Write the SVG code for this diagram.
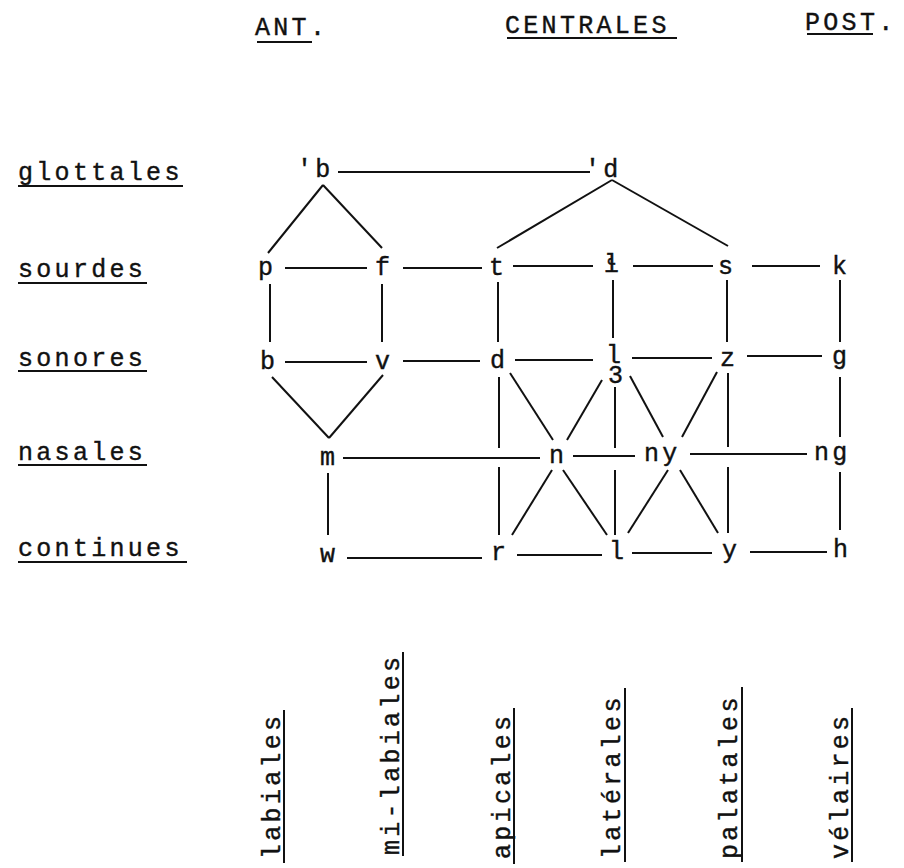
<svg xmlns="http://www.w3.org/2000/svg" width="904" height="868" viewBox="0 0 904 868">
<style>
text{font-family:"Liberation Mono","DejaVu Sans Mono",monospace;font-size:25px;fill:#111;stroke:#111;stroke-width:0.4px;letter-spacing:3.3px}
.c line,.u line{stroke:#111;stroke-width:2;stroke-linecap:butt}
</style>
<rect width="904" height="868" fill="#fff"/>
<g id="headers">
<text x="255" y="35">ANT.</text>
<text x="505" y="33">CENTRALES</text>
<text x="805" y="30">POST.</text>
</g>
<g id="row-labels">
<text x="18" y="180">glottales</text>
<text x="18" y="277">sourdes</text>
<text x="18" y="366">sonores</text>
<text x="18" y="460">nasales</text>
<text x="18" y="556">continues</text>
</g>
<g id="col-labels">
<text transform="translate(280,859) rotate(-90)">labiales</text>
<text transform="translate(399,855) rotate(-90)">mi-labiales</text>
<text transform="translate(510,859) rotate(-90)">apicales</text>
<text transform="translate(620,859) rotate(-90)">latérales</text>
<text transform="translate(737,859) rotate(-90)">palatales</text>
<text transform="translate(848,859) rotate(-90)">vélaires</text>
</g>
<g class="u" id="underlines">
<line x1="257" y1="42" x2="312" y2="42"/>
<line x1="507" y1="38" x2="677" y2="38"/>
<line x1="807" y1="34" x2="873" y2="34"/>
<line x1="18" y1="186" x2="183" y2="186"/>
<line x1="18" y1="283" x2="147" y2="283"/>
<line x1="18" y1="371" x2="147" y2="371"/>
<line x1="18" y1="465" x2="147" y2="465"/>
<line x1="18" y1="562" x2="187" y2="562"/>
<line x1="284" y1="863" x2="284" y2="710"/>
<line x1="403" y1="856" x2="403" y2="652"/>
<line x1="514" y1="864" x2="514" y2="708"/>
<line x1="625" y1="862" x2="625" y2="688"/>
<line x1="742" y1="862" x2="742" y2="687"/>
<line x1="852" y1="862" x2="852" y2="708"/>
</g>
<g class="c" id="connectors">
<line x1="338" y1="172" x2="590" y2="172"/>
<line x1="285" y1="268" x2="367" y2="268"/>
<line x1="403" y1="268" x2="482" y2="268"/>
<line x1="513" y1="266" x2="593" y2="266"/>
<line x1="633" y1="266" x2="713" y2="266"/>
<line x1="752" y1="266" x2="820" y2="266"/>
<line x1="285" y1="362" x2="367" y2="362"/>
<line x1="403" y1="361" x2="480" y2="361"/>
<line x1="515" y1="360" x2="593" y2="360"/>
<line x1="632" y1="358" x2="712" y2="358"/>
<line x1="747" y1="356" x2="822" y2="356"/>
<line x1="343" y1="458" x2="540" y2="458"/>
<line x1="573" y1="456" x2="635" y2="456"/>
<line x1="690" y1="454" x2="807" y2="454"/>
<line x1="347" y1="558" x2="482" y2="558"/>
<line x1="517" y1="555" x2="602" y2="555"/>
<line x1="632" y1="553" x2="712" y2="553"/>
<line x1="750" y1="552" x2="827" y2="552"/>
<line x1="323" y1="185" x2="268" y2="253"/>
<line x1="323" y1="185" x2="382" y2="248"/>
<line x1="612" y1="180" x2="497" y2="248"/>
<line x1="612" y1="180" x2="728" y2="246"/>
<line x1="272" y1="377" x2="329" y2="438"/>
<line x1="383" y1="375" x2="329" y2="438"/>
<line x1="510" y1="373" x2="553" y2="440"/>
<line x1="602" y1="380" x2="567" y2="440"/>
<line x1="630" y1="376" x2="663" y2="437"/>
<line x1="717" y1="372" x2="682" y2="437"/>
<line x1="552" y1="470" x2="512" y2="535"/>
<line x1="563" y1="470" x2="607" y2="535"/>
<line x1="668" y1="470" x2="628" y2="533"/>
<line x1="680" y1="470" x2="718" y2="533"/>
<line x1="270" y1="284" x2="270" y2="342"/>
<line x1="382" y1="284" x2="382" y2="342"/>
<line x1="498" y1="282" x2="498" y2="342"/>
<line x1="613" y1="280" x2="613" y2="338"/>
<line x1="727" y1="280" x2="727" y2="342"/>
<line x1="840" y1="280" x2="840" y2="342"/>
<line x1="499" y1="377" x2="499" y2="448"/>
<line x1="499" y1="467" x2="499" y2="535"/>
<line x1="615" y1="387" x2="615" y2="448"/>
<line x1="615" y1="470" x2="615" y2="535"/>
<line x1="728" y1="373" x2="728" y2="447"/>
<line x1="728" y1="467" x2="728" y2="533"/>
<line x1="840" y1="377" x2="840" y2="437"/>
<line x1="840" y1="472" x2="840" y2="530"/>
<line x1="328" y1="473" x2="328" y2="535"/>
</g>
<g id="n-glot-b"><text x="297" y="177">'b</text></g>
<g id="n-glot-d"><text x="585" y="177">'d</text></g>
<g id="n-p"><text x="258" y="275">p</text></g>
<g id="n-f"><text x="375" y="275">f</text></g>
<g id="n-t"><text x="489" y="275">t</text></g>
<g id="n-lh"><text x="604" y="272">ɬ</text></g>
<g id="n-s"><text x="718" y="274">s</text></g>
<g id="n-k"><text x="832" y="274">k</text></g>
<g id="n-b"><text x="260" y="369">b</text></g>
<g id="n-v"><text x="375" y="369">v</text></g>
<g id="n-d"><text x="490" y="368">d</text></g>
<g id="n-lz"><text x="606" y="363">l</text><text x="608" y="383">3</text></g>
<g id="n-z"><text x="720" y="366">z</text></g>
<g id="n-g"><text x="832" y="364">g</text></g>
<g id="n-m"><text x="320" y="465">m</text></g>
<g id="n-n"><text x="549" y="463">n</text></g>
<g id="n-ny"><text x="644" y="461">ny</text></g>
<g id="n-ng"><text x="814" y="460">ng</text></g>
<g id="n-w"><text x="320" y="562">w</text></g>
<g id="n-r"><text x="491" y="560">r</text></g>
<g id="n-l"><text x="609" y="559">l</text></g>
<g id="n-y"><text x="722" y="558">y</text></g>
<g id="n-h"><text x="833" y="557">h</text></g>
</svg>
